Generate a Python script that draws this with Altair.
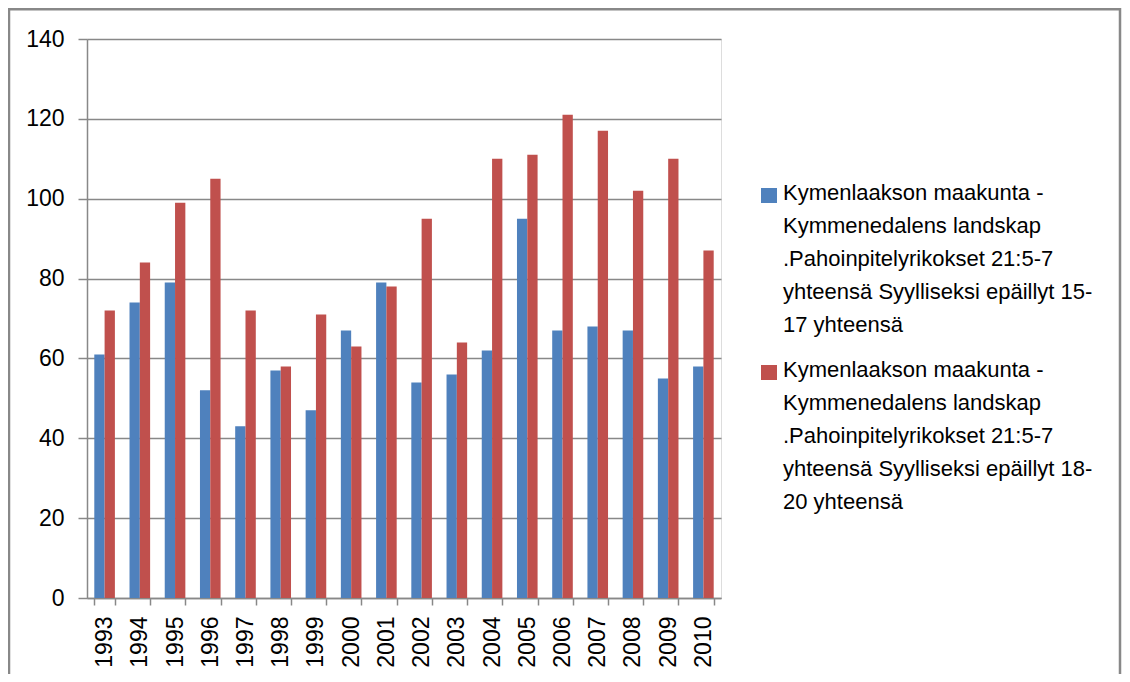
import altair as alt
import pandas as pd

years = [str(y) for y in range(1993, 2011)]
series_1517 = [61, 74, 79, 52, 43, 57, 47, 67, 79, 54, 56, 62, 95, 67, 68, 67, 55, 58]
series_1820 = [72, 84, 99, 105, 72, 58, 71, 63, 78, 95, 64, 110, 111, 121, 117, 102, 110, 87]
names = [
    "Kymenlaakson maakunta -\nKymmenedalens landskap\n.Pahoinpitelyrikokset 21:5-7\nyhteensä Syylliseksi epäillyt 15-\n17 yhteensä",
    "Kymenlaakson maakunta -\nKymmenedalens landskap\n.Pahoinpitelyrikokset 21:5-7\nyhteensä Syylliseksi epäillyt 18-\n20 yhteensä",
]
colors = ["#4F81BD", "#C0504D"]
y_ticks = [0, 20, 40, 60, 80, 100, 120, 140]

rows = []
for i, yr in enumerate(years):
    rows.append({"year": yr, "series": "s1", "value": series_1517[i]})
    rows.append({"year": yr, "series": "s2", "value": series_1820[i]})
df = pd.DataFrame(rows)

FONT = "Liberation Sans"
W, H = 634, 559

bars = alt.Chart(df).mark_bar(stroke=None).encode(
    x=alt.X("year:N", sort=years, title=None,
            scale=alt.Scale(paddingInner=0.415, paddingOuter=0.207),
            axis=alt.Axis(labelAngle=270, labelAlign="right", labelBaseline="middle",
                          labelFont=FONT, labelFontSize=23, labelColor="#000",
                          labelPadding=11, tickBand="extent", tickSize=7,
                          tickColor="#888", tickWidth=1.5, domainColor="#888",
                          domainWidth=1.5, grid=False)),
    xOffset=alt.XOffset("series:N", sort=["s1", "s2"]),
    y=alt.Y("value:Q", title=None,
            scale=alt.Scale(domain=[0, 140], nice=False),
            axis=alt.Axis(values=y_ticks, labelFont=FONT, labelFontSize=23,
                          labelColor="#000", labelPadding=14, tickSize=9,
                          tickColor="#888", tickWidth=1.5, domainColor="#888",
                          domainWidth=1.5, grid=True, gridColor="#888", gridWidth=1.3)),
    color=alt.Color("series:N", scale=alt.Scale(domain=["s1", "s2"], range=colors),
                    legend=None),
)

one = pd.DataFrame({"a": [0]})
frame = alt.Chart(one).mark_rect(filled=False, stroke="#888", strokeWidth=2.5).encode(
    x=alt.value(-78), x2=alt.value(1033), y=alt.value(-29.8), y2=alt.value(720)
)

leg_layers = []
for i, (nm, col) in enumerate(zip(names, colors)):
    d = pd.DataFrame({"label": [nm]})
    ytop = 149 + i * 177
    sq = alt.Chart(d).mark_rect(color=col).encode(
        x=alt.value(674), x2=alt.value(690), y=alt.value(ytop), y2=alt.value(ytop + 15)
    )
    tx = alt.Chart(d).mark_text(align="left", baseline="top", lineBreak="\n",
                                lineHeight=33, font=FONT, fontSize=22,
                                color="#000").encode(
        text="label:N", x=alt.value(696), y=alt.value(ytop - 5)
    )
    leg_layers += [sq, tx]

chart = alt.layer(bars, frame, *leg_layers).properties(
    width=W, height=H,
    padding={"left": 79, "top": 31, "right": 401, "bottom": 76},
    autosize=alt.AutoSizeParams(type="none"),
).configure_view(stroke=None).configure(background="white")

chart.save("out.html", embed_options={"renderer": "svg", "actions": False})
